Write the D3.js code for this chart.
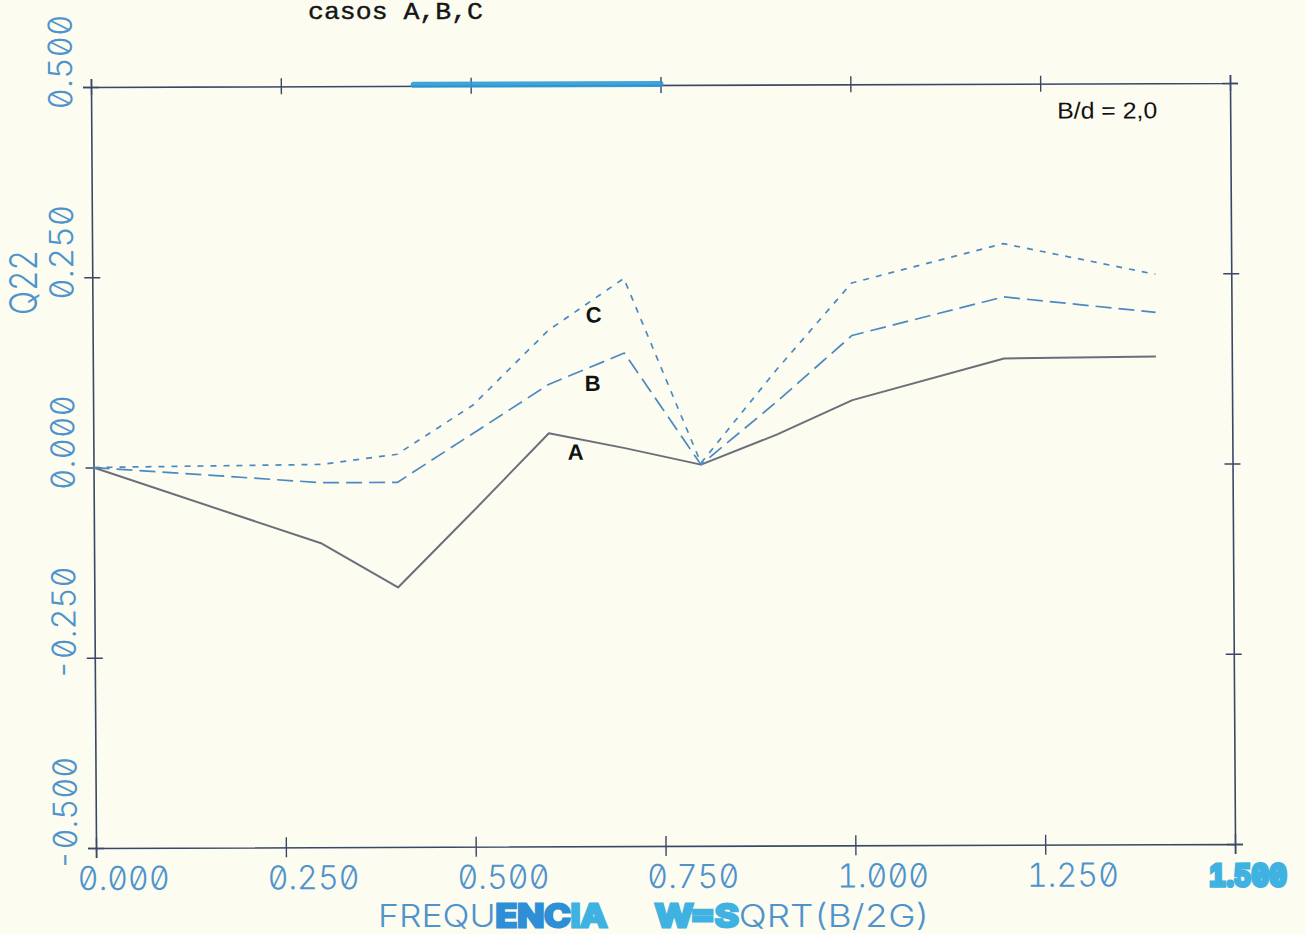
<!DOCTYPE html>
<html>
<head>
<meta charset="utf-8">
<script src="https://cdn.jsdelivr.net/npm/d3@7/dist/d3.min.js"></script>
<style>
  html, body { margin: 0; padding: 0; background: #fcfcf1; }
  svg { display: block; }
  .plotter { font-family: Inter, 'DejaVu Sans Mono', monospace; font-weight: 300;
             font-feature-settings: "zero" 1, "tnum" 1; }
</style>
</head>
<body>
<svg id="chart" width="1306" height="934"></svg>
<script>
// Frequency values (W = SQRT(B/2G)) shared by the three cases
const freq = [0, 0.3, 0.4, 0.5, 0.6, 0.7, 0.8, 0.9, 1.0, 1.2, 1.4];

// Q22 for each case
const caseA = [0, -0.101, -0.159, -0.059, 0.043, 0.023, 0.001, 0.040, 0.085, 0.139, 0.141];
const caseB = [0, -0.021, -0.021, 0.043, 0.107, 0.148, 0.001, 0.083, 0.170, 0.220, 0.199];
const caseC = [0, 0.003, 0.016, 0.080, 0.178, 0.246, 0.003, 0.125, 0.239, 0.290, 0.249];

// Axis ticks and their printed labels
const xTickValues = [0, 0.25, 0.5, 0.75, 1.0, 1.25, 1.5];
const xTickLabels = ["0.000", "0.250", "0.500", "0.750", "1.000", "1.250", "1.500"];
const yTickValues = [0.5, 0.25, 0, -0.25, -0.5];
const yTickLabels = ["0.500", "0.250", "0.000", "-0.250", "-0.500"];

// Where each curve label sits, in data units
const labelPos = [
  { name: "A", x: 0.635, y: 0.018 },
  { name: "B", x: 0.658, y: 0.108 },
  { name: "C", x: 0.660, y: 0.198 }
];

// Marker-pen stroke drawn over part of the top border, in data units
const penMark = [0.425, 0.75];

const W = 1139, H = 761;
const svg = d3.select("#chart");

svg.append("rect").attr("width", 1306).attr("height", 934).attr("fill", "#fcfcf1");

const tickBlue = "#4f93cc";
const axisCol = "#3b4767";
const inkCyan = "#3fb2e2";
const inkBlue = "#2f8fd6";

// Heading
svg.append("text")
  .attr("x", 308).attr("y", 19)
  .attr("font-family", "'Courier New', 'Liberation Mono', monospace")
  .attr("font-size", 24)
  .attr("fill", "#151515")
  .attr("stroke", "#151515").attr("stroke-width", 0.4)
  .attr("textLength", 175)
  .attr("lengthAdjust", "spacingAndGlyphs")
  .text("casos A,B,C");

// Plot area, slightly sheared like the plotter sheet
const g = svg.append("g")
  .attr("transform", "translate(91,87) matrix(1,-0.0035,0.0066,1,0,0)");

const x = d3.scaleLinear().domain([0, 1.5]).range([0, W]);
const y = d3.scaleLinear().domain([-0.5, 0.5]).range([H, 0]);

function styleAxis(sel) {
  sel.select(".domain").attr("stroke", axisCol).attr("stroke-width", 1.6);
  sel.selectAll(".tick line").attr("stroke", axisCol).attr("stroke-width", 1.4);
}

// Bottom axis with labels
const axBottom = g.append("g").attr("transform", `translate(0,${H})`)
  .call(d3.axisBottom(x).tickValues(xTickValues).tickSizeOuter(0).tickSize(10)
    .tickFormat((d, i) => xTickLabels[i]));
styleAxis(axBottom);
axBottom.selectAll(".tick line").attr("y1", -10).attr("y2", 10);
axBottom.selectAll(".tick text")
  .attr("class", "plotter")
  .attr("font-family", null).attr("font-size", 33)
  .attr("y", 42).attr("dy", 0).attr("dx", 27)
  .attr("fill", tickBlue)
  .attr("textLength", 92)
  .attr("lengthAdjust", "spacingAndGlyphs");
// last label is smudged with marker ink
axBottom.selectAll(".tick text").filter((d, i) => i === xTickValues.length - 1)
  .attr("dx", 12).attr("textLength", 78).attr("font-size", 30)
  .attr("fill", inkCyan).attr("stroke", inkCyan).attr("stroke-width", 3.5)
  .style("font-weight", 700);

// Top border with crossing ticks
const axTop = g.append("g")
  .call(d3.axisTop(x).tickValues(xTickValues).tickSizeOuter(0).tickSize(8).tickFormat(""));
styleAxis(axTop);
axTop.selectAll(".tick line").attr("y1", 8).attr("y2", -8);
g.append("line")
  .attr("x1", x(penMark[0])).attr("x2", x(penMark[1]))
  .attr("y1", -1).attr("y2", -1)
  .attr("stroke", "#2c9ad8").attr("stroke-width", 6).attr("stroke-linecap", "round")
  .attr("opacity", 0.9);

// Left axis with rotated labels
const axLeft = g.append("g")
  .call(d3.axisLeft(y).tickValues(yTickValues).tickSizeOuter(0).tickSize(8)
    .tickFormat((d, i) => yTickLabels[i]));
styleAxis(axLeft);
axLeft.selectAll(".tick line").attr("x1", -8).attr("x2", 8);
axLeft.selectAll(".tick text")
  .attr("class", "plotter")
  .attr("font-family", null).attr("font-size", 33)
  .attr("x", null).attr("dy", null)
  .attr("text-anchor", "start")
  .attr("transform", "translate(-19,22) rotate(-90)")
  .attr("fill", tickBlue)
  .attr("textLength", (d, i) => yTickLabels[i].length * 19)
  .attr("lengthAdjust", "spacingAndGlyphs");

// Right border with crossing ticks
const axRight = g.append("g").attr("transform", `translate(${W},0)`)
  .call(d3.axisRight(y).tickValues(yTickValues).tickSizeOuter(0).tickSize(8).tickFormat(""));
styleAxis(axRight);
axRight.selectAll(".tick line").attr("x1", -8).attr("x2", 8);

// Curves
const line = d3.line().x(d => x(d[0])).y(d => y(d[1]));
const series = [
  { name: "A", values: caseA, color: "#6b6f7a", width: 2, dash: null },
  { name: "B", values: caseB, color: "#4a89c2", width: 1.7, dash: "16,7" },
  { name: "C", values: caseC, color: "#4a89c2", width: 1.7, dash: "6,7" }
];
g.selectAll("path.curve").data(series).join("path")
  .attr("class", "curve")
  .attr("fill", "none")
  .attr("stroke", d => d.color)
  .attr("stroke-width", d => d.width)
  .attr("stroke-dasharray", d => d.dash)
  .attr("stroke-linejoin", "round")
  .attr("d", d => line(d.values.map((v, i) => [freq[i], v])));

// Curve labels
g.selectAll("text.lbl").data(labelPos).join("text")
  .attr("class", "lbl")
  .attr("x", d => x(d.x)).attr("y", d => y(d.y))
  .attr("text-anchor", "middle")
  .attr("dominant-baseline", "central")
  .attr("font-family", "'Liberation Sans', Arial, sans-serif")
  .attr("font-weight", "bold")
  .attr("font-size", 22)
  .attr("fill", "#111")
  .text(d => d.name);

// Parameter note
g.append("text")
  .attr("x", 1016).attr("y", 35)
  .attr("text-anchor", "middle")
  .attr("font-family", "'Liberation Sans', Arial, sans-serif")
  .attr("font-size", 23)
  .attr("fill", "#111")
  .attr("textLength", 100)
  .attr("lengthAdjust", "spacingAndGlyphs")
  .text("B/d = 2,0");

// Axis titles
svg.append("text")
  .attr("class", "plotter")
  .attr("transform", "translate(37,315) rotate(-90)")
  .attr("font-size", 38)
  .attr("fill", tickBlue)
  .attr("textLength", 65)
  .attr("lengthAdjust", "spacingAndGlyphs")
  .text("Q22");

// x-axis title, in two words, some letters gone over with marker
const xTitleWords = [
  { x0: 378, len: 229, parts: [
    { t: "FREQU", ink: null }, { t: "ENC", ink: inkBlue }, { t: "IA", ink: inkCyan } ] },
  { x0: 655, len: 275, parts: [
    { t: "W=S", ink: inkCyan }, { t: "QRT(B/2G)", ink: null } ] }
];
xTitleWords.forEach(w => {
  const t = svg.append("text")
    .attr("class", "plotter")
    .attr("x", w.x0).attr("y", 927)
    .attr("font-size", 31)
    .attr("fill", tickBlue)
    .attr("textLength", w.len)
    .attr("lengthAdjust", "spacingAndGlyphs");
  w.parts.forEach(p => {
    const ts = t.append("tspan").text(p.t);
    if (p.ink) ts.attr("fill", p.ink).attr("stroke", p.ink).attr("stroke-width", 3).style("font-weight", 700);
  });
});
</script>
</body>
</html>
